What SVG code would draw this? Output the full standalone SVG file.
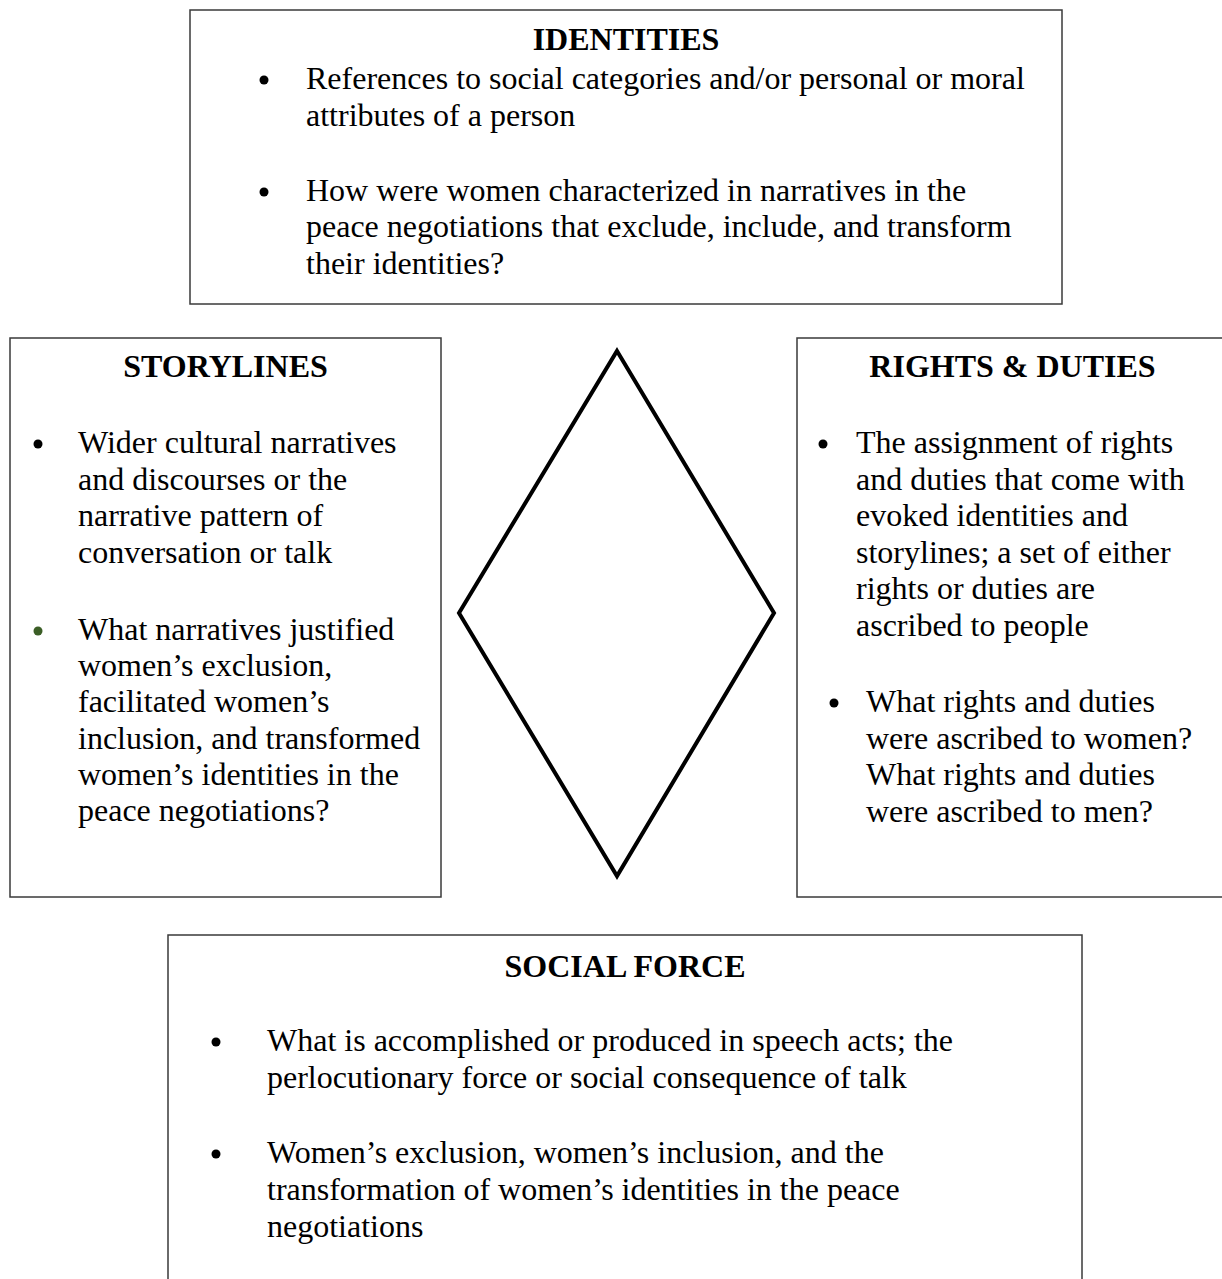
<svg xmlns="http://www.w3.org/2000/svg" width="1222" height="1279" viewBox="0 0 1222 1279">
<style>
.box{fill:#ffffff;stroke:#3a3a3a;stroke-width:1.5}
.t{font-family:"Liberation Serif","Times New Roman",serif;font-size:32px;fill:#000000}
.h{font-family:"Liberation Serif","Times New Roman",serif;font-size:32px;font-weight:bold;fill:#000000;text-anchor:middle}
.b{fill:#000000}
.g{fill:#3b5e26}
.dia{fill:none;stroke:#000000;stroke-width:4;stroke-linejoin:miter}
</style>
<rect x="0" y="0" width="1222" height="1279" fill="#ffffff"/>
<g id="identities">
<rect class="box" x="190" y="10" width="872" height="294"/>
<text class="h" x="626" y="50">IDENTITIES</text>
<circle class="b" cx="264" cy="80" r="4.5"/>
<text class="t" x="306" y="89">References to social categories and/or personal or moral</text>
<text class="t" x="306" y="126">attributes of a person</text>
<circle class="b" cx="264" cy="192" r="4.5"/>
<text class="t" x="306" y="201">How were women characterized in narratives in the</text>
<text class="t" x="306" y="237">peace negotiations that exclude, include, and transform</text>
<text class="t" x="306" y="274">their identities?</text>
</g>
<g id="storylines">
<rect class="box" x="10" y="338" width="431" height="559"/>
<text class="h" x="225.5" y="377">STORYLINES</text>
<circle class="b" cx="38" cy="444" r="4.5"/>
<text class="t" x="78" y="453">Wider cultural narratives</text>
<text class="t" x="78" y="489.5">and discourses or the</text>
<text class="t" x="78" y="526">narrative pattern of</text>
<text class="t" x="78" y="562.5">conversation or talk</text>
<circle class="g" cx="38" cy="631" r="4.5"/>
<text class="t" x="78" y="640">What narratives justified</text>
<text class="t" x="78" y="676">women’s exclusion,</text>
<text class="t" x="78" y="712">facilitated women’s</text>
<text class="t" x="78" y="748.5">inclusion, and transformed</text>
<text class="t" x="78" y="785">women’s identities in the</text>
<text class="t" x="78" y="821">peace negotiations?</text>
</g>
<g id="rights-duties">
<rect class="box" x="797" y="338" width="431" height="559"/>
<text class="h" x="1012.5" y="377">RIGHTS &amp; DUTIES</text>
<circle class="b" cx="823" cy="444" r="4.5"/>
<text class="t" x="856" y="453">The assignment of rights</text>
<text class="t" x="856" y="489.5">and duties that come with</text>
<text class="t" x="856" y="526">evoked identities and</text>
<text class="t" x="856" y="562.5">storylines; a set of either</text>
<text class="t" x="856" y="599">rights or duties are</text>
<text class="t" x="856" y="635.5">ascribed to people</text>
<circle class="b" cx="834" cy="703" r="4.5"/>
<text class="t" x="866" y="712">What rights and duties</text>
<text class="t" x="866" y="748.5">were ascribed to women?</text>
<text class="t" x="866" y="785">What rights and duties</text>
<text class="t" x="866" y="821.5">were ascribed to men?</text>
</g>
<g id="connectors">
<polygon id="diamond" class="dia" points="617,351 774,613 617,876 459,613"/>
</g>
<g id="social-force">
<rect class="box" x="168" y="935" width="914" height="380"/>
<text class="h" x="625" y="977">SOCIAL FORCE</text>
<circle class="b" cx="216" cy="1042" r="4.5"/>
<text class="t" x="267" y="1051">What is accomplished or produced in speech acts; the</text>
<text class="t" x="267" y="1088">perlocutionary force or social consequence of talk</text>
<circle class="b" cx="216" cy="1154" r="4.5"/>
<text class="t" x="267" y="1163">Women’s exclusion, women’s inclusion, and the</text>
<text class="t" x="267" y="1200">transformation of women’s identities in the peace</text>
<text class="t" x="267" y="1237">negotiations</text>
</g>
</svg>
